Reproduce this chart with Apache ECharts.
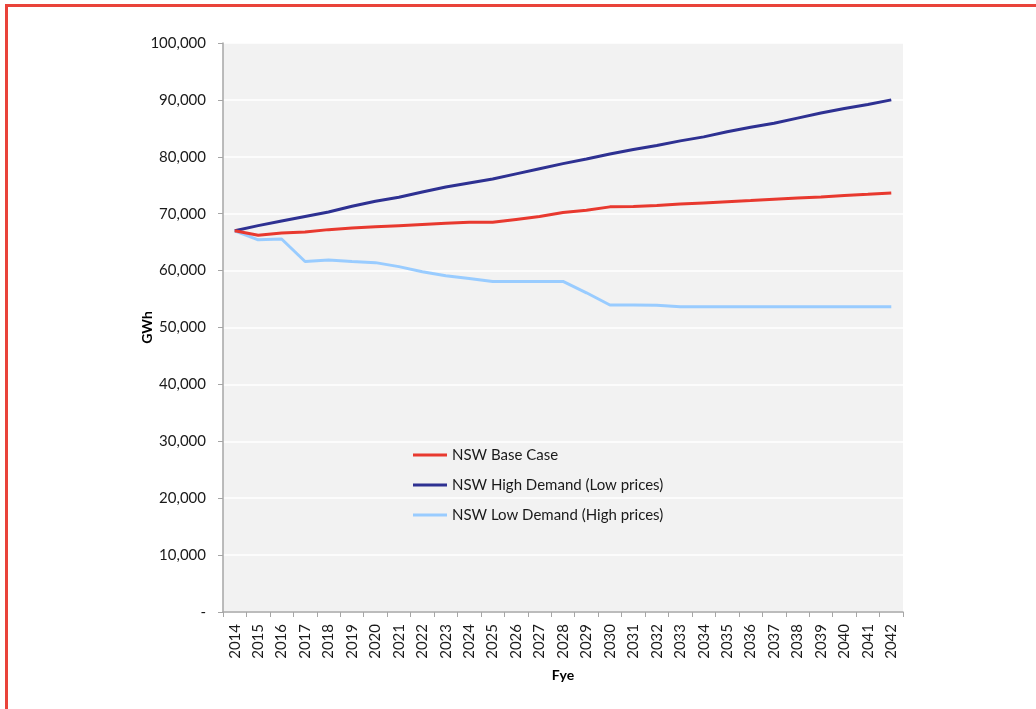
<!DOCTYPE html>
<html>
<head>
<meta charset="utf-8">
<script src="https://cdn.jsdelivr.net/npm/echarts@6/dist/echarts.min.js"></script>
<style>
  html, body { margin: 0; padding: 0; background: #fff; }
  #frame { position: absolute; left: 5px; top: 4px; width: 1031px; height: 705px;
           border-left: 3px solid #e9433a; border-top: 3px solid #e9433a; box-sizing: border-box; }
  #chart { position: absolute; left: 0; top: 0; width: 1036px; height: 709px; }
</style>
</head>
<body>
<div id="frame"></div>
<div id="chart"></div>
<script>
const years = ['2014','2015','2016','2017','2018','2019','2020','2021','2022','2023','2024','2025','2026','2027','2028','2029','2030','2031','2032','2033','2034','2035','2036','2037','2038','2039','2040','2041','2042'];
const baseCase = [67000,66200,66600,66800,67200,67500,67700,67900,68100,68300,68500,68500,69000,69500,70200,70600,71200,71250,71450,71700,71900,72100,72300,72550,72750,72950,73200,73400,73650];
const highDemand = [67000,67900,68700,69500,70300,71300,72200,72900,73800,74700,75400,76100,77000,77900,78800,79600,80500,81300,82000,82800,83500,84400,85200,85900,86800,87700,88500,89200,90000];
const lowDemand = [67000,65400,65550,61600,61850,61600,61400,60700,59800,59100,58600,58100,58100,58100,58100,56100,53950,53950,53900,53650,53650,53650,53650,53650,53650,53650,53650,53650,53650];
const seriesNames = ['NSW Base Case','NSW High Demand (Low prices)','NSW Low Demand (High prices)'];
const colors = ['#e8392f','#2e3192','#99ccff'];

const FONT = 'Lato';
const chart = echarts.init(document.getElementById('chart'));
chart.setOption({
  backgroundColor: 'transparent',
  animation: false,
  textStyle: { fontFamily: FONT },
  grid: { left: 223, right: 133, top: 43, bottom: 97, show: true, backgroundColor: '#f2f2f2', borderWidth: 0 },
  legend: {
    orient: 'vertical', left: 413, top: 447, padding: 0,
    itemWidth: 34, itemHeight: 3, itemGap: 14,
    icon: 'rect',
    textStyle: { fontFamily: FONT, fontSize: 15, color: '#1a1a1a', lineHeight: 16 },
    data: seriesNames
  },
  xAxis: {
    type: 'category', data: years, boundaryGap: true,
    name: 'Fye', nameLocation: 'middle', nameGap: 56,
    nameTextStyle: { fontFamily: FONT, fontSize: 14, fontWeight: 'bold', color: '#000' },
    axisLine: { show: true, lineStyle: { color: '#a6a6a6', width: 1.5 } },
    axisTick: { show: true, alignWithLabel: false, length: 5, lineStyle: { color: '#a6a6a6' } },
    axisLabel: { rotate: 90, margin: 12, fontFamily: FONT, fontSize: 15, color: '#1a1a1a', interval: 0 },
    splitLine: { show: false }
  },
  yAxis: {
    type: 'value', min: 0, max: 100000, interval: 10000,
    name: 'GWh', nameLocation: 'middle', nameGap: 69, nameRotate: 90, nameMoveOverlap: false,
    nameTextStyle: { fontFamily: FONT, fontSize: 14, fontWeight: 'bold', color: '#000' },
    axisLine: { show: true, lineStyle: { color: '#a6a6a6', width: 1.5 } },
    axisTick: { show: true, length: 5, lineStyle: { color: '#a6a6a6' } },
    axisLabel: {
      margin: 17, fontFamily: FONT, fontSize: 15, color: '#1a1a1a',
      formatter: v => v === 0 ? '-' : v.toLocaleString('en-US')
    },
    splitLine: { show: true, lineStyle: { color: '#ffffff', width: 1.5 } }
  },
  series: [baseCase, highDemand, lowDemand].map((d, i) => ({
    name: seriesNames[i], type: 'line', data: d, showSymbol: false, symbol: 'none',
    color: colors[i], lineStyle: { color: colors[i], width: 3 }, z: 3 - i
  }))
});
</script>
</body>
</html>
